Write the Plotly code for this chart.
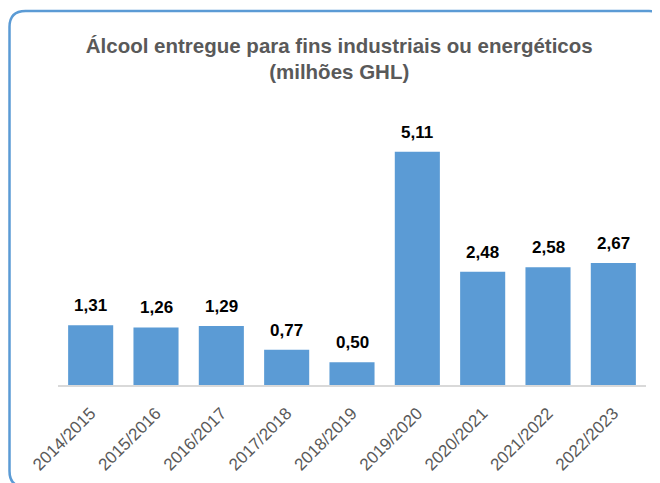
import plotly.graph_objects as go

categories = ["2014/2015", "2015/2016", "2016/2017", "2017/2018", "2018/2019",
              "2019/2020", "2020/2021", "2021/2022", "2022/2023"]
values = [1.31, 1.26, 1.29, 0.77, 0.50, 5.11, 2.48, 2.58, 2.67]
title_lines = ["Álcool entregue para fins industriais ou energéticos", "(milhões GHL)"]

# page body has an 8px margin, so the figure is laid out 8px up/left
OFF = 8
W, H = 660 - OFF, 483 - OFF
ML, MR, MT, MB = 58 - OFF, 14, 111 - OFF, 98
PW, PH = W - ML - MR, H - MT - MB

def px(x):
    return (x - OFF - ML) / PW

def py(y):
    return (H - MB - (y - OFF)) / PH

def rounded_rect(x0, y0, x1, y1, r):
    pts = [
        f"M {px(x0 + r)} {py(y0)}",
        f"L {px(x1 - r)} {py(y0)}",
        f"Q {px(x1)} {py(y0)} {px(x1)} {py(y0 + r)}",
        f"L {px(x1)} {py(y1 - r)}",
        f"Q {px(x1)} {py(y1)} {px(x1 - r)} {py(y1)}",
        f"L {px(x0 + r)} {py(y1)}",
        f"Q {px(x0)} {py(y1)} {px(x0)} {py(y1 - r)}",
        f"L {px(x0)} {py(y0 + r)}",
        f"Q {px(x0)} {py(y0)} {px(x0 + r)} {py(y0)}",
        "Z",
    ]
    return " ".join(pts)

fig = go.Figure(go.Bar(
    x=categories, y=values,
    marker=dict(color="#5B9BD5", line=dict(width=0)),
    hoverinfo="x+y",
))

for c, v in zip(categories, values):
    fig.add_annotation(
        x=c, y=v, xref="x", yref="y",
        text="<b>" + f"{v:.2f}".replace(".", ",") + "</b>",
        showarrow=False, yanchor="bottom", yshift=8,
        font=dict(family="Liberation Sans", size=17, color="#000000"),
    )

fig.update_layout(
    width=W, height=H,
    margin=dict(l=ML, r=MR, t=MT, b=MB, autoexpand=False),
    paper_bgcolor="white", plot_bgcolor="white",
    separators=",.",
    bargap=0.31,
    showlegend=False,
    title=dict(text="<b>" + title_lines[0] + "</b><br><b>" + title_lines[1] + "</b>",
               x=0.508, xanchor="center", y=0.906, yanchor="top",
               font=dict(family="Liberation Sans", size=20.5, color="#595959")),
    font=dict(family="Liberation Sans"),
    xaxis=dict(tickangle=-45, tickfont=dict(size=17, color="#595959"),
               showline=True, linecolor="#D9D9D9", linewidth=1.5, ticks="",
               showgrid=False, automargin=False, ticklabelstandoff=10),
    yaxis=dict(range=[0, 6], visible=False, showgrid=False, automargin=False),
    shapes=[dict(type="path", xref="paper", yref="paper",
                 path=rounded_rect(9.5, 11, 665, 487, 16),
                 line=dict(color="#5B9BD5", width=2.5), layer="above")],
)

fig.write_html("out.html")
